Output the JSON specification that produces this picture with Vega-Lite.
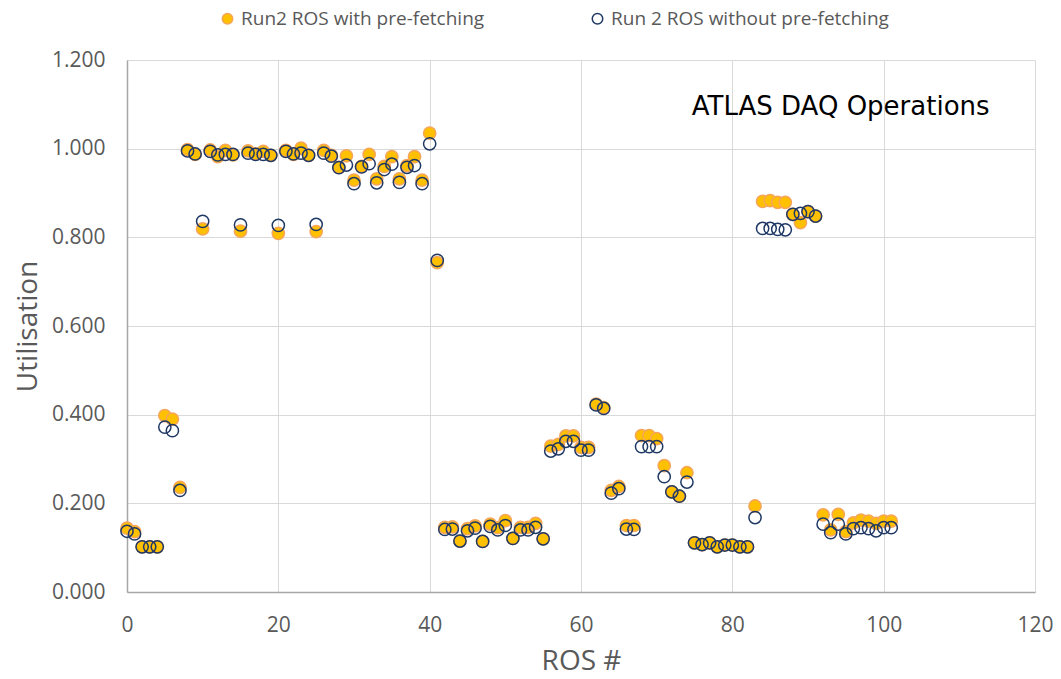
{
  "$schema": "https://vega.github.io/schema/vega-lite/v6.json",
  "width": 908,
  "height": 532,
  "autosize": {"type": "none"},
  "padding": {"left": 127, "top": 60, "right": 26, "bottom": 87},
  "background": "white",
  "config": {
    "view": {"stroke": null},
    "font": "Open Sans",
    "axis": {
      "labelFont": "Open Sans",
      "titleFont": "Open Sans",
      "labelColor": "#595959",
      "titleColor": "#595959",
      "labelFontSize": 21,
      "titleFontSize": 28,
      "titleFontWeight": "normal",
      "gridColor": "#D9D9D9",
      "gridWidth": 1,
      "domainColor": "#A6A6A6",
      "domainWidth": 1.5,
      "ticks": false,
      "labelFlush": false
    },
    "legend": {
      "labelFont": "Open Sans",
      "labelFontSize": 19,
      "labelColor": "#595959",
      "labelLimit": 500
    }
  },
  "datasets": {
    "ros": [
      {"ros": 0, "with": 0.144, "without": 0.137},
      {"ros": 1, "with": 0.136, "without": 0.131},
      {"ros": 2, "with": 0.102, "without": 0.102},
      {"ros": 3, "with": 0.102, "without": 0.102},
      {"ros": 4, "with": 0.102, "without": 0.102},
      {"ros": 5, "with": 0.398, "without": 0.372},
      {"ros": 6, "with": 0.390, "without": 0.364},
      {"ros": 7, "with": 0.236, "without": 0.229},
      {"ros": 8, "with": 0.998, "without": 0.995},
      {"ros": 9, "with": 0.987, "without": 0.988},
      {"ros": 10, "with": 0.819, "without": 0.836},
      {"ros": 11, "with": 0.997, "without": 0.994},
      {"ros": 12, "with": 0.982, "without": 0.986},
      {"ros": 13, "with": 0.996, "without": 0.987},
      {"ros": 14, "with": 0.986, "without": 0.987},
      {"ros": 15, "with": 0.814, "without": 0.828},
      {"ros": 16, "with": 0.995, "without": 0.990},
      {"ros": 17, "with": 0.988, "without": 0.987},
      {"ros": 18, "with": 0.994, "without": 0.987},
      {"ros": 19, "with": 0.985, "without": 0.985},
      {"ros": 20, "with": 0.809, "without": 0.827},
      {"ros": 21, "with": 0.996, "without": 0.994},
      {"ros": 22, "with": 0.987, "without": 0.988},
      {"ros": 23, "with": 1.001, "without": 0.990},
      {"ros": 24, "with": 0.985, "without": 0.985},
      {"ros": 25, "with": 0.813, "without": 0.829},
      {"ros": 26, "with": 0.996, "without": 0.990},
      {"ros": 27, "with": 0.985, "without": 0.983},
      {"ros": 28, "with": 0.958, "without": 0.957},
      {"ros": 29, "with": 0.984, "without": 0.963},
      {"ros": 30, "with": 0.929, "without": 0.921},
      {"ros": 31, "with": 0.960, "without": 0.959},
      {"ros": 32, "with": 0.987, "without": 0.966},
      {"ros": 33, "with": 0.932, "without": 0.923},
      {"ros": 34, "with": 0.960, "without": 0.953},
      {"ros": 35, "with": 0.982, "without": 0.965},
      {"ros": 36, "with": 0.932, "without": 0.924},
      {"ros": 37, "with": 0.962, "without": 0.958},
      {"ros": 38, "with": 0.982, "without": 0.962},
      {"ros": 39, "with": 0.929, "without": 0.921},
      {"ros": 40, "with": 1.035, "without": 1.011},
      {"ros": 41, "with": 0.743, "without": 0.748},
      {"ros": 42, "with": 0.146, "without": 0.141},
      {"ros": 43, "with": 0.147, "without": 0.142},
      {"ros": 44, "with": 0.115, "without": 0.115},
      {"ros": 45, "with": 0.143, "without": 0.138},
      {"ros": 46, "with": 0.149, "without": 0.144},
      {"ros": 47, "with": 0.114, "without": 0.114},
      {"ros": 48, "with": 0.153, "without": 0.148},
      {"ros": 49, "with": 0.145, "without": 0.140},
      {"ros": 50, "with": 0.161, "without": 0.150},
      {"ros": 51, "with": 0.121, "without": 0.121},
      {"ros": 52, "with": 0.146, "without": 0.140},
      {"ros": 53, "with": 0.146, "without": 0.140},
      {"ros": 54, "with": 0.155, "without": 0.146},
      {"ros": 55, "with": 0.120, "without": 0.120},
      {"ros": 56, "with": 0.329, "without": 0.318},
      {"ros": 57, "with": 0.333, "without": 0.323},
      {"ros": 58, "with": 0.352, "without": 0.340},
      {"ros": 59, "with": 0.352, "without": 0.340},
      {"ros": 60, "with": 0.326, "without": 0.320},
      {"ros": 61, "with": 0.326, "without": 0.320},
      {"ros": 62, "with": 0.424, "without": 0.422},
      {"ros": 63, "with": 0.416, "without": 0.414},
      {"ros": 64, "with": 0.229, "without": 0.223},
      {"ros": 65, "with": 0.238, "without": 0.233},
      {"ros": 66, "with": 0.150, "without": 0.142},
      {"ros": 67, "with": 0.150, "without": 0.141},
      {"ros": 68, "with": 0.353, "without": 0.328},
      {"ros": 69, "with": 0.353, "without": 0.328},
      {"ros": 70, "with": 0.346, "without": 0.328},
      {"ros": 71, "with": 0.285, "without": 0.260},
      {"ros": 72, "with": 0.226, "without": 0.226},
      {"ros": 73, "with": 0.216, "without": 0.216},
      {"ros": 74, "with": 0.269, "without": 0.248},
      {"ros": 75, "with": 0.111, "without": 0.111},
      {"ros": 76, "with": 0.107, "without": 0.107},
      {"ros": 77, "with": 0.111, "without": 0.111},
      {"ros": 78, "with": 0.102, "without": 0.102},
      {"ros": 79, "with": 0.106, "without": 0.106},
      {"ros": 80, "with": 0.106, "without": 0.106},
      {"ros": 81, "with": 0.102, "without": 0.102},
      {"ros": 82, "with": 0.102, "without": 0.102},
      {"ros": 83, "with": 0.194, "without": 0.168},
      {"ros": 84, "with": 0.881, "without": 0.820},
      {"ros": 85, "with": 0.883, "without": 0.820},
      {"ros": 86, "with": 0.879, "without": 0.818},
      {"ros": 87, "with": 0.879, "without": 0.817},
      {"ros": 88, "with": 0.852, "without": 0.852},
      {"ros": 89, "with": 0.833, "without": 0.854},
      {"ros": 90, "with": 0.858, "without": 0.858},
      {"ros": 91, "with": 0.848, "without": 0.848},
      {"ros": 92, "with": 0.174, "without": 0.153},
      {"ros": 93, "with": 0.140, "without": 0.134},
      {"ros": 94, "with": 0.175, "without": 0.153},
      {"ros": 95, "with": 0.136, "without": 0.131},
      {"ros": 96, "with": 0.156, "without": 0.143},
      {"ros": 97, "with": 0.162, "without": 0.145},
      {"ros": 98, "with": 0.160, "without": 0.143},
      {"ros": 99, "with": 0.155, "without": 0.138},
      {"ros": 100, "with": 0.160, "without": 0.145},
      {"ros": 101, "with": 0.160, "without": 0.145}
    ],
    "note": [
      {"x": 114, "y": 1.094, "label": "ATLAS DAQ Operations"}
    ]
  },
  "layer": [
    {
      "data": {"name": "ros"},
      "transform": [
        {"fold": ["with", "without"], "as": ["series", "util"]}
      ],
      "mark": {"type": "point", "shape": "circle", "size": 150, "strokeWidth": 1.5, "opacity": 1},
      "encoding": {
        "x": {
          "field": "ros", "type": "quantitative",
          "scale": {"domain": [0, 120], "nice": false},
          "axis": {"values": [0, 20, 40, 60, 80, 100, 120], "title": "ROS #", "labelPadding": 22, "titlePadding": 12, "grid": true}
        },
        "y": {
          "field": "util", "type": "quantitative",
          "scale": {"domain": [0, 1.2], "nice": false},
          "axis": {"values": [0, 0.2, 0.4, 0.6, 0.8, 1.0, 1.2], "format": ".3f", "title": "Utilisation", "labelPadding": 22, "titlePadding": 9, "grid": true}
        },
        "fill": {
          "field": "series", "type": "nominal",
          "scale": {"domain": ["with", "without"], "range": ["#FFC000", "transparent"]},
          "legend": {
            "title": null,
            "orient": "none",
            "direction": "horizontal",
            "legendX": 91,
            "legendY": -51,
            "symbolSize": 110,
            "symbolStrokeWidth": 1.5,
            "columnPadding": 103,
            "labelExpr": "datum.label == 'with' ? 'Run2 ROS with pre-fetching' : 'Run 2 ROS without pre-fetching'"
          }
        },
        "stroke": {
          "field": "series", "type": "nominal",
          "scale": {"domain": ["with", "without"], "range": ["#F5A65B", "#1F3864"]},
          "legend": {
            "title": null,
            "orient": "none",
            "direction": "horizontal",
            "legendX": 91,
            "legendY": -51,
            "symbolSize": 110,
            "symbolStrokeWidth": 1.5,
            "columnPadding": 103,
            "labelExpr": "datum.label == 'with' ? 'Run2 ROS with pre-fetching' : 'Run 2 ROS without pre-fetching'"
          }
        },
        "order": {"field": "series", "sort": "ascending"}
      }
    },
    {
      "data": {"name": "note"},
      "mark": {"type": "text", "align": "right", "baseline": "middle", "fontSize": 26, "font": "DejaVu Sans", "color": "#000000"},
      "encoding": {
        "x": {"field": "x", "type": "quantitative"},
        "y": {"field": "y", "type": "quantitative"},
        "text": {"field": "label"}
      }
    }
  ]
}
